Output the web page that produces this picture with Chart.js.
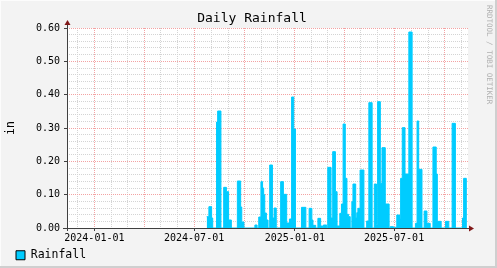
<!DOCTYPE html>
<html><head><meta charset="utf-8">
<script src="https://cdn.jsdelivr.net/npm/chart.js@4/dist/chart.umd.min.js"></script>
<style>html,body{margin:0;padding:0;background:#f3f3f3;overflow:hidden}</style>
</head><body>
<canvas id="c" width="497" height="268" style="display:block;width:497px;height:268px"></canvas>
<script>
// ---- data ----
const title = 'Daily Rainfall';
const seriesName = 'Rainfall';
const unitLabel = 'in';
const xRange = ['2023-11-12', '2025-11-13'];
const xLabelDates = ['2024-01-01', '2024-07-01', '2025-01-01', '2025-07-01'];
const yMax = 0.6;
const yMinorStep = 0.02;
const dates = [
 '2024-07-24','2024-07-28','2024-08-02','2024-08-04','2024-08-11','2024-08-13','2024-08-19','2024-08-24','2024-08-29','2024-09-02',
 '2024-09-07','2024-09-18','2024-09-24','2024-09-26','2024-09-30','2024-10-20','2024-10-24','2024-10-27','2024-10-31','2024-11-03',
 '2024-11-05','2024-11-07','2024-11-10','2024-11-13','2024-11-16','2024-11-21','2024-11-24','2024-11-28','2024-12-06','2024-12-11',
 '2024-12-17','2024-12-22','2024-12-26','2024-12-30','2025-01-02','2025-01-13','2025-01-21','2025-01-27','2025-02-01','2025-02-03',
 '2025-02-08','2025-02-12','2025-02-17','2025-02-21','2025-02-22','2025-02-28','2025-03-02','2025-03-08','2025-03-11','2025-03-16',
 '2025-03-19','2025-03-24','2025-03-27','2025-03-30','2025-04-03','2025-04-06','2025-04-09','2025-04-12','2025-04-15','2025-04-17',
 '2025-04-22','2025-04-24','2025-04-26','2025-04-30','2025-05-07','2025-05-12','2025-05-16','2025-05-22','2025-05-26','2025-05-30',
 '2025-06-01','2025-06-06','2025-06-09','2025-06-15','2025-06-22','2025-06-24','2025-06-30','2025-07-02','2025-07-06','2025-07-11',
 '2025-07-13','2025-07-16','2025-07-21','2025-07-28','2025-08-03','2025-08-09','2025-08-12','2025-08-15','2025-08-21','2025-08-25',
 '2025-08-30','2025-09-05','2025-09-10','2025-09-16','2025-09-18','2025-09-25','2025-10-03','2025-10-09','2025-10-15','2025-10-21',
 '2025-11-03','2025-11-05','2025-11-10'
];
const rainfall = [
 0.034,0.064,0.030,0,0.318,0.351,0,0.122,0.109,0.024,
 0,0.141,0.063,0.018,0,0.009,0,0.033,0.139,0.120,
 0.100,0.045,0.024,0,0.189,0.030,0.060,0,0.139,0.101,
 0.015,0.027,0.393,0.297,0,0.062,0,0.059,0.024,0.008,
 0,0.029,0.006,0,0.009,0,0.182,0.030,0.229,0.109,
 0.006,0.044,0.072,0.312,0.149,0.041,0.034,0,0.079,0.132,
 0.030,0.046,0.059,0.174,0,0.021,0.376,0,0.132,0.010,
 0.379,0.134,0.241,0.072,0,0.004,0,0.002,0.039,0.027,
 0.149,0.301,0.162,0.588,0,0.014,0.321,0.176,0,0.051,
 0.014,0,0.243,0.162,0.020,0,0.020,0,0.314,0,
 0.030,0.149,0
];

// ---- helpers ----
const ts = s => Date.parse(s + 'T00:00:00Z');
const labelSet = new Set(xLabelDates.map(ts));
const FONT = 'DejaVu Sans Mono';
const CYAN = '#00ccff';
const GRID = '#d4d4d4';
const MGRID = '#f3a3a3';

function monthTicks(min, max) {
  const out = [];
  const d0 = new Date(min);
  let y = d0.getUTCFullYear(), m = d0.getUTCMonth() + 1;
  while (true) {
    if (m > 11) { m = 0; y++; }
    const t = Date.UTC(y, m, 1);
    if (t > max) break;
    out.push({ value: t });
    m++;
  }
  return out;
}
const isQuarter = v => new Date(v).getUTCMonth() % 3 === 0;
const isMajorY = v => Math.round(v * 100) % 10 === 0;

const rrdFrame = {
  id: 'rrdFrame',
  beforeDraw(chart) {
    const { ctx, chartArea: a, width, height } = chart;
    ctx.save();
    ctx.fillStyle = '#f3f3f3'; ctx.fillRect(0, 0, width, height);
    ctx.fillStyle = '#fcfcfc'; ctx.fillRect(0, 0, width, 1); ctx.fillRect(0, 0, 1, height);
    ctx.fillStyle = '#cfcfcf'; ctx.fillRect(0, height - 2, width, 2); ctx.fillRect(width - 2, 0, 2, height);
    ctx.fillStyle = '#ffffff'; ctx.fillRect(a.left, a.top, a.right - a.left, a.bottom - a.top);
    ctx.restore();
  },
  afterDatasetsDraw(chart) {
    const { ctx, chartArea: a } = chart;
    ctx.save();
    const x0 = Math.round(a.left) + 0.5, y0 = Math.round(a.bottom) + 0.5;
    ctx.strokeStyle = '#404040'; ctx.lineWidth = 1;
    ctx.beginPath();
    ctx.moveTo(a.left - 4, y0); ctx.lineTo(a.right + 2, y0);
    ctx.moveTo(x0, a.bottom + 3); ctx.lineTo(x0, a.top - 3);
    ctx.stroke();
    ctx.fillStyle = '#801818';
    ctx.beginPath(); ctx.moveTo(x0 - 3, a.top - 3); ctx.lineTo(x0 + 3, a.top - 3); ctx.lineTo(x0, a.top - 8); ctx.closePath(); ctx.fill();
    ctx.beginPath(); ctx.moveTo(a.right + 1, y0 - 3); ctx.lineTo(a.right + 1, y0 + 3); ctx.lineTo(a.right + 6, y0); ctx.closePath(); ctx.fill();
    ctx.fillStyle = '#b0b0b0'; ctx.font = '7.5px "' + FONT + '"';
    ctx.translate(487, 5); ctx.rotate(Math.PI / 2); ctx.textBaseline = 'alphabetic';
    ctx.fillText('RRDTOOL / TOBI OETIKER', 0, 0);
    ctx.restore();
  }
};

Chart.defaults.font.family = FONT;
Chart.defaults.color = '#000';

new Chart(document.getElementById('c'), {
  type: 'line',
  data: {
    datasets: [{
      label: seriesName,
      data: dates.map((d, i) => ({ x: ts(d), y: rainfall[i] })),
      stepped: true,
      fill: 'origin',
      backgroundColor: CYAN,
      borderColor: CYAN,
      borderWidth: 1,
      pointRadius: 0,
      tension: 0
    }]
  },
  options: {
    responsive: false,
    devicePixelRatio: 1,
    animation: false,
    events: [],
    layout: { padding: { left: 10, right: 3, top: 0, bottom: -3 } },
    plugins: {
      title: {
        display: true, text: title, color: '#000',
        font: { family: FONT, size: 13, weight: 'normal', lineHeight: 1.2 },
        padding: { top: 11, bottom: 1.4 }
      },
      legend: {
        display: true, position: 'bottom', align: 'start',
        labels: {
          boxWidth: 9, boxHeight: 9, padding: 6, color: '#000',
          font: { family: FONT, size: 11.5 },
          generateLabels: () => [{ text: seriesName, fillStyle: CYAN, strokeStyle: '#000', lineWidth: 1, hidden: false, datasetIndex: 0 }]
        }
      },
      tooltip: { enabled: false }
    },
    scales: {
      x: {
        type: 'linear', position: 'bottom',
        min: ts(xRange[0]), max: ts(xRange[1]),
        afterBuildTicks: s => { s.ticks = monthTicks(s.min, s.max); },
        afterFit: s => { s.height = 15.5; },
        ticks: {
          autoSkip: false, maxRotation: 0, minRotation: 0, padding: 1,
          font: { family: FONT, size: 10 }, color: '#000',
          callback: v => labelSet.has(v) ? new Date(v).toISOString().slice(0, 10) : ''
        },
        grid: {
          drawTicks: true, tickLength: 3,
          color: c => isQuarter(c.tick.value) ? MGRID : GRID,
          tickColor: c => labelSet.has(c.tick.value) ? '#404040' : 'rgba(0,0,0,0)'
        },
        border: { display: false, dash: [1, 1] }
      },
      y: {
        type: 'linear', position: 'left',
        min: 0, max: yMax,
        afterBuildTicks: s => {
          const n = Math.round(yMax / yMinorStep), t = [];
          for (let i = 0; i <= n; i++) t.push({ value: +(i * yMinorStep).toFixed(4) });
          s.ticks = t;
        },
        afterFit: s => { s.width = 57; },
        ticks: {
          autoSkip: false, padding: 4,
          font: { family: FONT, size: 10 }, color: '#000',
          callback: v => isMajorY(v) ? v.toFixed(2) : ''
        },
        grid: {
          drawTicks: true, tickLength: 3,
          color: c => isMajorY(c.tick.value) ? MGRID : GRID,
          tickColor: c => isMajorY(c.tick.value) ? '#404040' : 'rgba(0,0,0,0)'
        },
        border: { display: false, dash: [1, 1] },
        title: { display: true, text: unitLabel, color: '#000', font: { family: FONT, size: 11.5 }, padding: { top: -6, bottom: 0 } }
      },
      yRight: {
        type: 'linear', position: 'right', min: 0, max: 1,
        afterFit: s => { s.width = 26; },
        ticks: { display: false },
        grid: { display: false, drawTicks: false },
        border: { display: false }
      }
    }
  },
  plugins: [rrdFrame]
});
</script>
</body></html>
